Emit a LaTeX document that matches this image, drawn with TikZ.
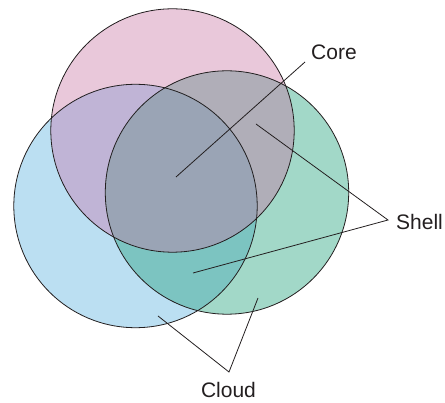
\documentclass[tikz,border=0pt]{standalone}
\usepackage{fontspec}
\setmainfont{Liberation Sans}
\definecolor{corec}{HTML}{E9C8DA}
\definecolor{cloudc}{HTML}{BBDFF2}
\definecolor{shellc}{HTML}{A2D8C8}
\definecolor{pbc}{HTML}{C0B4D6}
\definecolor{pgc}{HTML}{B0AEB8}
\definecolor{bgc}{HTML}{7CC4C1}
\definecolor{allc}{HTML}{9AA4B5}
\definecolor{inkc}{HTML}{231F20}
\tikzset{
  ring/.style={draw=inkc, line width=0.8pt},
  pointer/.style={draw=inkc, line width=0.8pt},
  lbl/.style={font=\fontsize{21}{24}\selectfont, text=inkc, inner sep=0pt}
}
\begin{document}
\begin{tikzpicture}[x=1pt,y=-1pt]
    \useasboundingbox (0,0) rectangle (445,403);
    \coordinate (p) at (172.5,130.5);
    \coordinate (b) at (135.5,206);
    \coordinate (g) at (227,192.5);
    \def\rr{121.7pt}

    % base discs
    \fill[corec] (p) circle[radius=\rr];
    \fill[cloudc] (b) circle[radius=\rr];
    \fill[shellc] (g) circle[radius=\rr];
    % pairwise overlaps
    \begin{scope}
        \clip (p) circle[radius=\rr];
        \fill[pbc] (b) circle[radius=\rr];
        \fill[pgc] (g) circle[radius=\rr];
    \end{scope}
    \begin{scope}
        \clip (b) circle[radius=\rr];
        \fill[bgc] (g) circle[radius=\rr];
    \end{scope}
    \begin{scope}
        \clip (p) circle[radius=\rr];
        \clip (b) circle[radius=\rr];
        \fill[allc] (g) circle[radius=\rr];
    \end{scope}
    % outlines
    \draw[ring] (p) circle[radius=\rr];
    \draw[ring] (b) circle[radius=\rr];
    \draw[ring] (g) circle[radius=\rr];

    % labels
    \node[lbl, anchor=west] (core) at (311,52) {Core};
    \node[lbl, anchor=west] (shell) at (396,222) {Shell};
    \node[lbl] (cloud) at (228.5,390) {Cloud};

    \coordinate (c1) at (176,177);
    \coordinate (c0) at (305,62);
    \coordinate (s0) at (388,220);
    \coordinate (s1) at (256,124);
    \coordinate (s2) at (193,273);
    \coordinate (d0) at (229,372);
    \coordinate (d1) at (158,316);
    \coordinate (d2) at (258,298);

    \draw[pointer] (c0) -- (c1);
    \draw[pointer] (s1) -- (s0) -- (s2);
    \draw[pointer] (d1) -- (d0) -- (d2);
\end{tikzpicture}
\end{document}
